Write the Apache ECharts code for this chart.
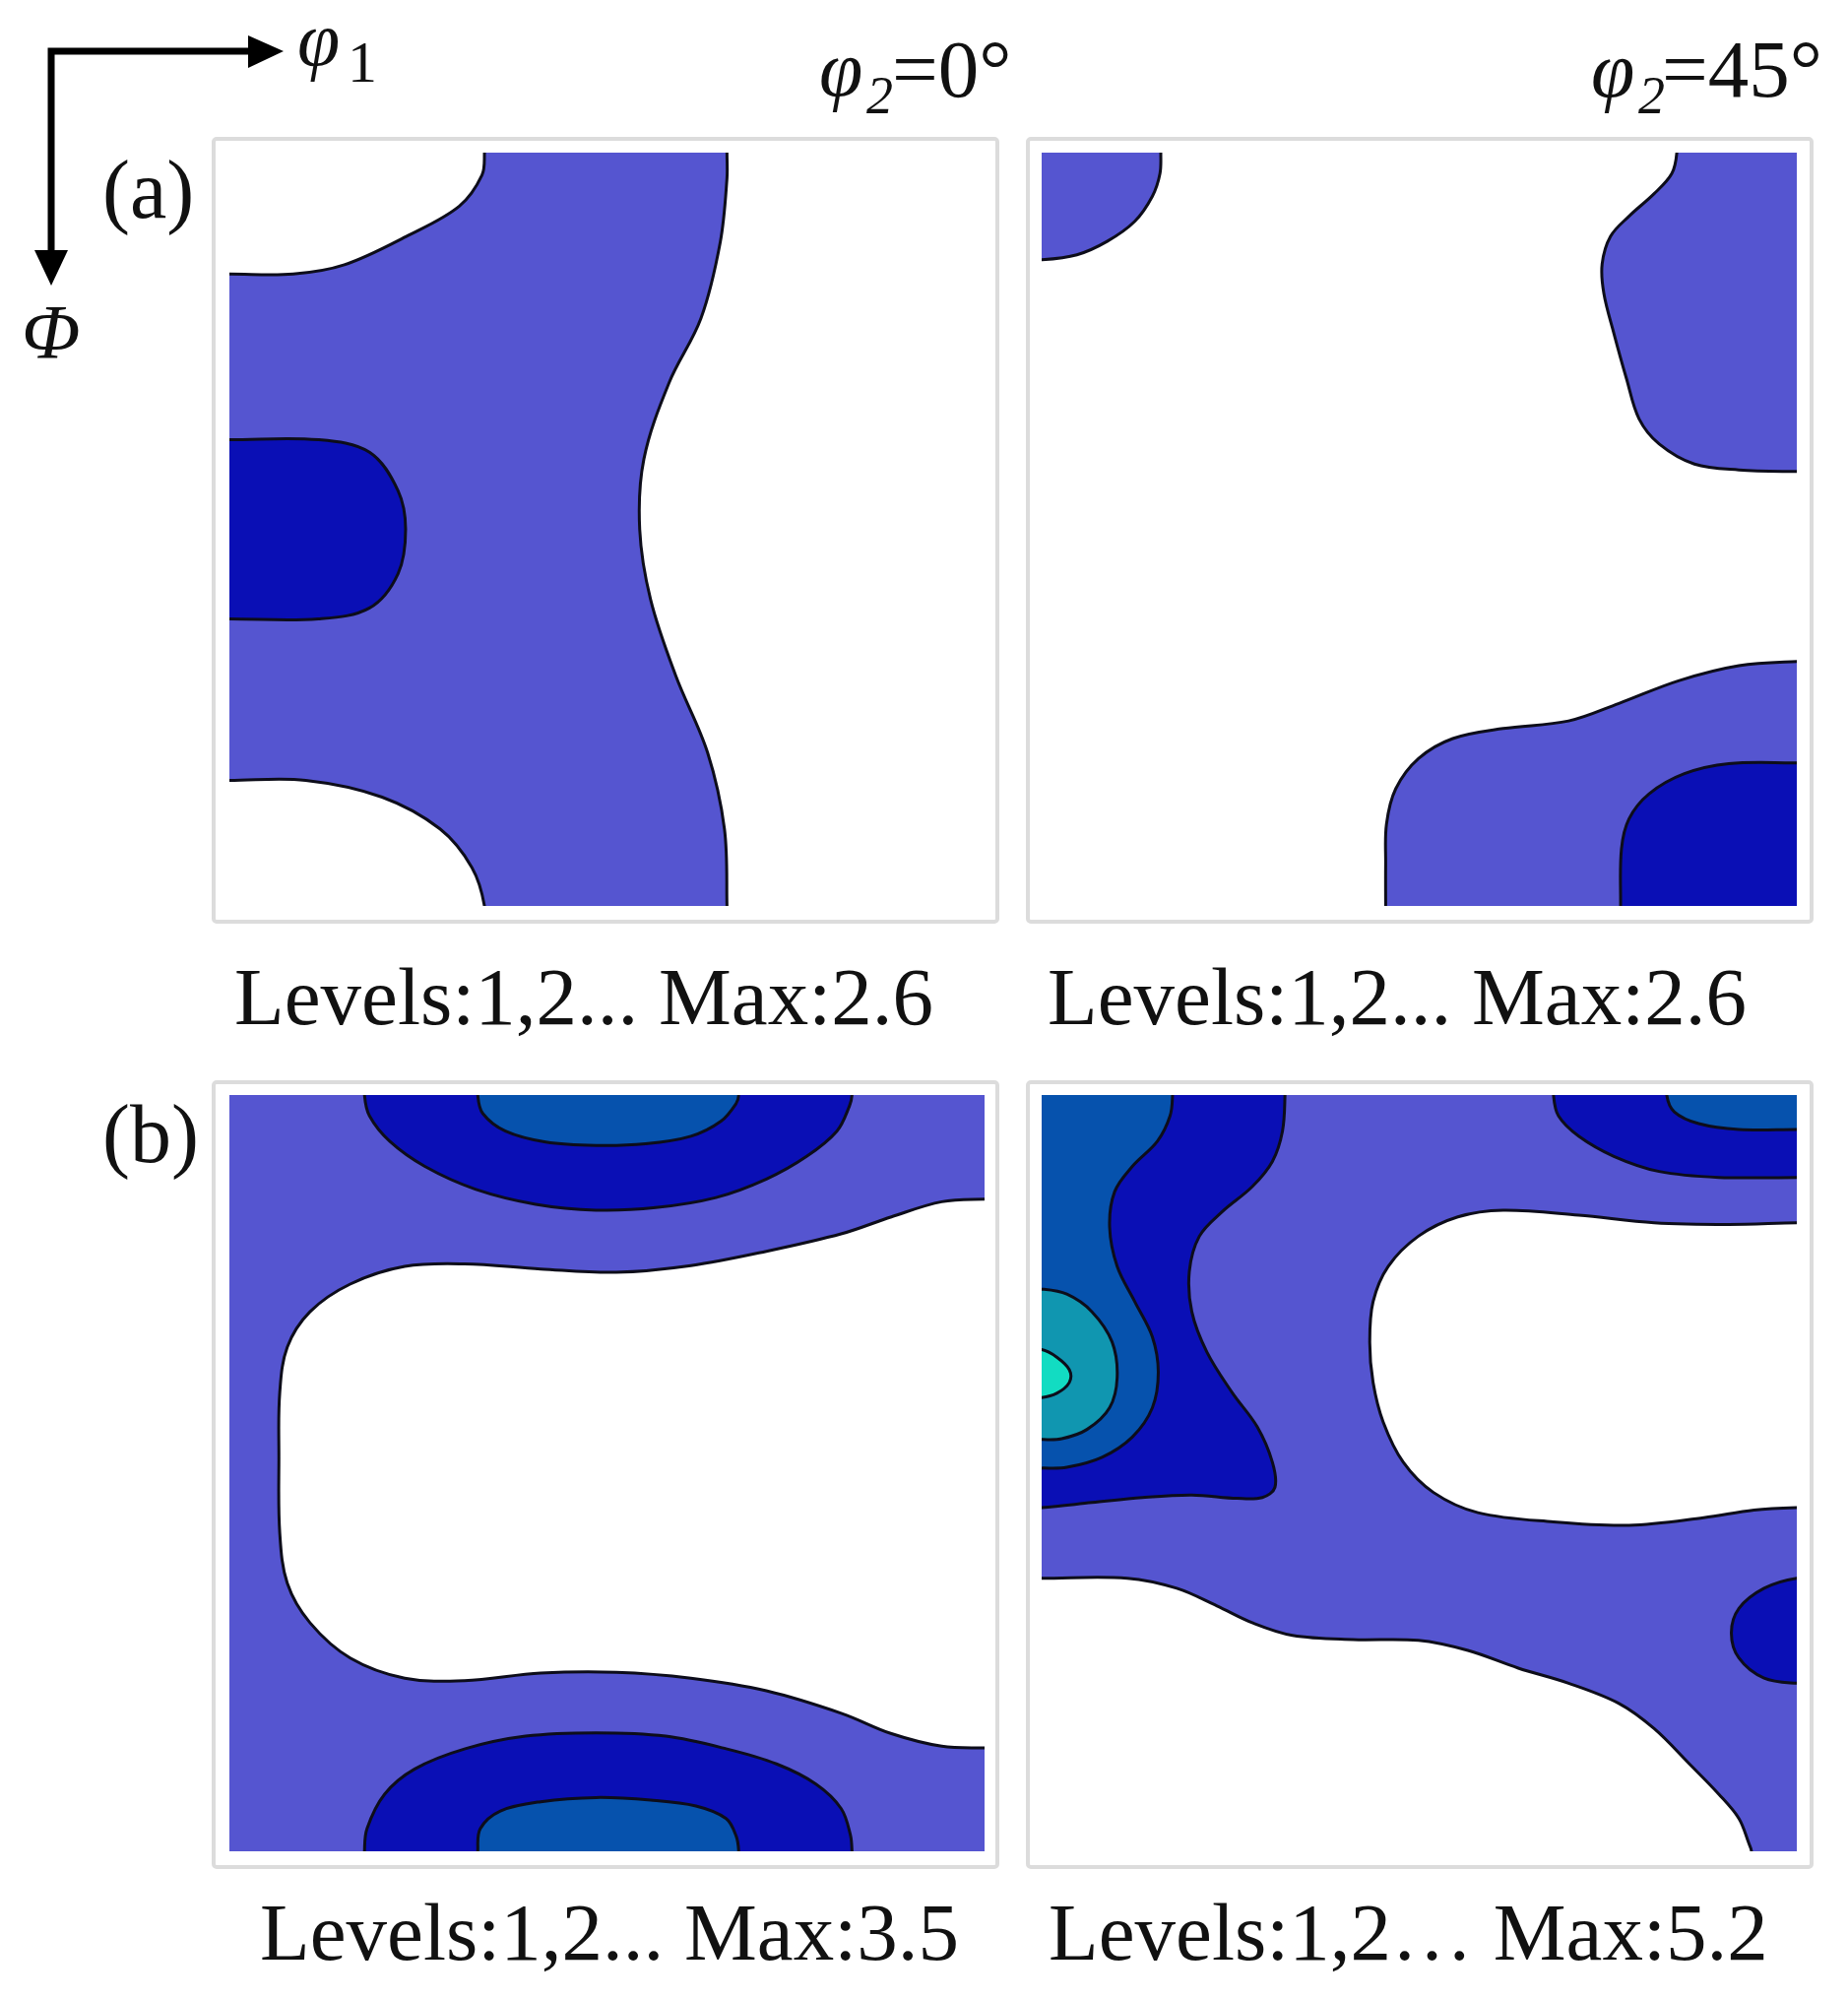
<!DOCTYPE html>
<html>
<head>
<meta charset="utf-8">
<title>ODF sections</title>
<script src="https://cdn.jsdelivr.net/npm/echarts@6/dist/echarts.min.js"></script>
<style>
html, body { margin: 0; padding: 0; background: #fff; }
#chart { width: 1877px; height: 2030px; }
</style>
</head>
<body>
<div id="chart"></div>
<script>
// contour fill colours, level 0 (below 1) up to level 5
const levelColors = ['#ffffff', '#5555d0', '#0a0fb5', '#0652ad', '#1096b0', '#12dcc2']

// axes: phi1 0..90 to the right, Phi 0..90 downwards
const axisMin = 0
const axisMax = 90

const captions = ['Levels:1,2... Max:2.6', 'Levels:1,2... Max:2.6', 'Levels:1,2... Max:3.5', 'Levels:1,2… Max:5.2']
const sectionTitles = ['0°', '45°']

// ---- (a) phi2 = 0 ----
const aLeftTopNotch = [[30.4, -4], [30.4, 0], [30.1, 2.7], [27.4, 6.4], [21.3, 9.9], [13.7, 13.4], [7.6, 14.5], [0, 14.5], [-4, 14.5]]
const aLeftBottomNotch = [[-4, 75], [0, 75], [9.1, 75], [18.2, 77], [25.1, 80.8], [28.9, 85.4], [30.4, 90], [30.4, 94]]
const aLeftRightWhite = [[59.3, -4], [59.3, 0], [59.3, 3.1], [58.5, 10.7], [56.2, 19.8], [52.4, 27.5], [49.4, 36.6], [48.9, 45], [50.2, 53.4], [53.2, 62.5], [57, 71.7], [59, 80.8], [59.3, 90], [59.3, 94]]
const aLeftLevel2 = [[-4, 34.3], [0, 34.3], [10.6, 34.3], [16.7, 35.8], [20.1, 40.4], [21, 45], [20.1, 50.3], [16.7, 54.4], [10.6, 55.7], [0, 55.7], [-4, 55.7]]

// ---- (a) phi2 = 45 ----
const aRightTopLeft = [[-4, 12.8], [0, 12.8], [4.2, 12.2], [7.8, 10.6], [11.1, 8.2], [13.2, 5.2], [14.1, 2.5], [14.2, 0], [14.2, -4]]
const aRightTopRight = [[75.7, -4], [75.7, 0], [75.1, 2.5], [73, 4.9], [70, 7.6], [67.8, 10], [66.8, 13.3], [67, 16.8], [68.2, 21.6], [69.7, 27], [71.2, 31.8], [73.6, 34.8], [77.8, 37.2], [83.1, 37.9], [90, 38.1], [94, 38.1]]
const aRightBottomL1 = [[94, 60.8], [90, 60.8], [83.1, 61.3], [75.9, 63.1], [68.8, 65.8], [62.8, 67.9], [55, 68.8], [49, 70], [44.9, 72.4], [42.2, 76], [41.1, 80.2], [41, 85], [41, 90], [41, 94]]
const aRightBottomL2 = [[94, 72.9], [90, 72.9], [81.9, 73], [76.6, 74.2], [72.4, 76.6], [70, 79.6], [69.1, 83.2], [69, 90], [69, 94]]

// ---- (b) phi2 = 0 ----
const bLeftHole = [[94, 12.4], [90, 12.4], [84.9, 12.7], [78.9, 14.5], [73, 16.5], [64, 18.6], [55, 20.3], [46.1, 21.1], [37.1, 20.7], [28, 20.1], [20.9, 20.4], [14.4, 22.5], [9.6, 25.8], [6.9, 30], [6, 35.4], [5.9, 43.1], [6, 52.1], [6.9, 58.1], [9.6, 62.8], [14.4, 67], [20.9, 69.4], [28, 69.7], [37.1, 68.8], [46.1, 68.7], [55, 69.4], [64, 70.9], [73, 73.6], [78.9, 76], [84.9, 77.5], [90, 77.7], [94, 77.7]]
const bLeftTopL2 = [[16.1, -4], [16.1, 0], [16.7, 2.5], [19.1, 5.5], [23.3, 8.5], [29.3, 11.2], [36.5, 13], [43.7, 13.7], [50.8, 13.4], [58, 12.2], [64, 10], [68.8, 7.3], [72.4, 4.3], [73.9, 1.3], [74.2, 0], [74.2, -4]]
const bLeftTopL3 = [[29.6, -4], [29.6, 0], [30.2, 2.2], [32.9, 4.3], [37.7, 5.6], [43.7, 6], [49.6, 5.8], [55, 4.9], [58.6, 3.1], [60.4, 1], [60.7, 0], [60.7, -4]]
const bLeftBottomL2 = [[16.1, 94], [16.1, 90], [16.4, 87.3], [18.5, 83.2], [22.1, 80.2], [28.1, 77.8], [35.3, 76.3], [43.7, 75.9], [52, 76.3], [59.2, 77.8], [65.2, 79.6], [69.9, 82], [72.9, 84.9], [74, 88], [74.2, 90], [74.2, 94]]
const bLeftBottomL3 = [[29.6, 94], [29.6, 90], [29.9, 87.3], [32.3, 85.2], [37.1, 84.1], [43.7, 83.6], [50.2, 83.9], [55.6, 84.6], [59.2, 86.1], [60.4, 88.2], [60.7, 90], [60.7, 94]]

// ---- (b) phi2 = 45 ----
const bRightHole = [[94, 15.2], [90, 15.2], [81.9, 15.4], [73, 15.2], [64, 14.3], [55, 13.7], [49.6, 14.5], [44.9, 16.8], [41.3, 20.4], [39.5, 24.6], [39.1, 29.4], [39.5, 34.2], [40.7, 38.9], [43.1, 43.7], [46.7, 47.3], [52, 49.7], [61, 50.8], [70, 51.2], [78.9, 50.3], [84.9, 49.4], [90, 49.1], [94, 49.1]]
const bRightBottomWhite = [[-4, 57.5], [0, 57.5], [10.2, 57.5], [16.1, 58.7], [20.9, 60.8], [25.1, 62.8], [29.9, 64.3], [37.1, 64.8], [44.9, 64.9], [50.8, 66.1], [56.8, 68.2], [62.8, 70], [68.8, 72.4], [73, 75.4], [77.2, 79.6], [80.7, 83.2], [83.1, 86.1], [84.3, 89.1], [84.6, 90], [84.7, 94]]
const bRightLeftL2 = [[29, -4], [29, 0], [28.7, 4.3], [27.5, 7.9], [25.1, 10.9], [21.5, 13.9], [18.8, 16.8], [17.6, 21], [17.9, 25.8], [19.7, 30.6], [22.7, 35.4], [25.7, 39.5], [27.5, 43.7], [27.8, 46.7], [26.3, 47.9], [23.3, 48], [17.9, 47.6], [12, 47.9], [6, 48.5], [0, 49.1], [-4, 49.2]]
const bRightLeftL3 = [[15.6, -4], [15.6, 0], [15.3, 2.5], [13.8, 5.5], [10.8, 8.5], [8.7, 11.5], [8.1, 15.7], [9, 20.4], [11.1, 24.6], [13.2, 28.8], [13.9, 33], [13.2, 37.2], [10.8, 40.7], [7.2, 43.1], [3, 44.3], [0, 44.4], [-4, 44.4]]
const bRightLeftL4 = [[-4, 23], [0, 23.1], [3, 23.7], [6, 25.8], [8.4, 29.4], [9, 33.6], [8.1, 37.2], [5.4, 39.8], [2.4, 40.9], [0, 41], [-4, 41]]
const bRightLeftL5 = [[-4, 30.2], [0, 30.3], [1.8, 31.2], [3.3, 32.7], [3.3, 34.2], [1.8, 35.5], [0, 36], [-4, 36.1]]
const bRightTopL2 = [[61, -4], [61, 0], [61.6, 2.5], [64, 4.9], [68.2, 7.3], [73.6, 9.1], [80.7, 9.8], [90, 9.8], [94, 9.8]]
const bRightTopL3 = [[74.5, -4], [74.5, 0], [75.4, 2], [78.3, 3.4], [83.1, 4.1], [90, 4.1], [94, 4.1]]
const bRightBlobL2 = [[94, 57.5], [90, 57.5], [86.1, 58.7], [83.1, 61.1], [82.2, 64], [83.1, 67], [86.1, 69.4], [90, 70], [94, 70]]

// corners well outside the plot, used to close regions touching an edge
const corners = { TL: [-12, -12], TR: [102, -12], BR: [102, 102], BL: [-12, 102] }
const fullPlot = { level: 1, line: [], close: ['TL', 'TR', 'BR', 'BL'] }

// drawing order = painter order
const panels = [
  [fullPlot,
    { level: 0, line: aLeftTopNotch, close: ['TL'] },
    { level: 0, line: aLeftBottomNotch, close: ['BL'] },
    { level: 0, line: aLeftRightWhite, close: ['BR', 'TR'] },
    { level: 2, line: aLeftLevel2, close: [] }],
  [{ level: 1, line: aRightTopLeft, close: ['TL'] },
    { level: 1, line: aRightTopRight, close: ['TR'] },
    { level: 1, line: aRightBottomL1, close: ['BR'] },
    { level: 2, line: aRightBottomL2, close: ['BR'] }],
  [fullPlot,
    { level: 0, line: bLeftHole, close: [] },
    { level: 2, line: bLeftTopL2, close: [] },
    { level: 3, line: bLeftTopL3, close: [] },
    { level: 2, line: bLeftBottomL2, close: [] },
    { level: 3, line: bLeftBottomL3, close: [] }],
  [fullPlot,
    { level: 0, line: bRightHole, close: [] },
    { level: 0, line: bRightBottomWhite, close: ['BL'] },
    { level: 2, line: bRightLeftL2, close: ['TL'] },
    { level: 3, line: bRightLeftL3, close: ['TL'] },
    { level: 4, line: bRightLeftL4, close: [] },
    { level: 5, line: bRightLeftL5, close: [] },
    { level: 2, line: bRightTopL2, close: ['TR'] },
    { level: 3, line: bRightTopL3, close: ['TR'] },
    { level: 2, line: bRightBlobL2, close: [] }]
]

// plot boxes (inner) and frames
const gridBoxes = [
  { left: 233, top: 155, width: 767, height: 765 },
  { left: 1058, top: 155, width: 767, height: 765 },
  { left: 233, top: 1112, width: 767, height: 768 },
  { left: 1058, top: 1112, width: 767, height: 768 }
]
const frames = [
  { x: 217, y: 141, width: 796, height: 795 },
  { x: 1044, y: 141, width: 796, height: 795 },
  { x: 217, y: 1099, width: 796, height: 797 },
  { x: 1044, y: 1099, width: 796, height: 797 }
]

const serif = 'Liberation Serif'

// text placed by its alphabetic baseline
const text = (str, x, base, size, extra) => ({
  type: 'text',
  x: x,
  y: base - size * 0.3,
  style: Object.assign({
    text: str,
    fontFamily: serif,
    fontSize: size,
    fill: '#111',
    align: 'left',
    verticalAlign: 'middle'
  }, extra || {})
})

const contourSeries = (idx) => ({
  type: 'custom',
  xAxisIndex: idx,
  yAxisIndex: idx,
  clip: true,
  silent: true,
  animation: false,
  data: panels[idx].map((r, i) => [i]),
  renderItem: (params, api) => {
    const r = panels[idx][params.dataIndex]
    const pts = r.line.concat(r.close.map(c => corners[c])).map(p => api.coord(p))
    const isBg = r.line.length === 0
    return {
      type: 'polygon',
      shape: { points: pts, smooth: isBg ? 0 : 0.35 },
      style: {
        fill: levelColors[r.level],
        stroke: isBg ? null : '#0d0d1a',
        lineWidth: 3
      }
    }
  }
})

const chart = echarts.init(document.getElementById('chart'))

const graphics = []
frames.forEach(f => {
  graphics.push({
    type: 'rect',
    shape: { x: f.x, y: f.y, width: f.width, height: f.height, r: 3 },
    style: { fill: null, stroke: '#dcdcdc', lineWidth: 4 },
    z: -1
  })
})
// axis arrows
graphics.push({
  type: 'polyline',
  shape: { points: [[258, 52], [52, 52], [52, 260]] },
  style: { stroke: '#000', lineWidth: 7, fill: null, lineJoin: 'miter' }
})
graphics.push({ type: 'polygon', shape: { points: [[252, 36], [288, 52], [252, 69]] }, style: { fill: '#000' } })
graphics.push({ type: 'polygon', shape: { points: [[35, 254], [52, 290], [69, 254]] }, style: { fill: '#000' } })
graphics.push(text('φ', 302, 69, 78, { fontStyle: 'italic' }))
graphics.push(text('1', 353, 85, 60))
graphics.push(text('Φ', 22, 366, 78, { fontStyle: 'italic' }))
graphics.push(text('(a)', 104, 224, 84))
graphics.push(text('(b)', 104, 1183, 84))
// section titles
graphics.push(text('φ', 832, 100, 80, { fontStyle: 'italic' }))
graphics.push(text('2', 880, 117, 54, { fontStyle: 'italic' }))
graphics.push(text('=' + sectionTitles[0], 906, 101, 83))
graphics.push(text('φ', 1616, 101, 80, { fontStyle: 'italic' }))
graphics.push(text('2', 1664, 117, 54, { fontStyle: 'italic' }))
graphics.push(text('=' + sectionTitles[1], 1688, 101, 83))
// captions
graphics.push(text(captions[0], 238, 1043, 83))
graphics.push(text(captions[1], 1064, 1043, 83))
graphics.push(text(captions[2], 264, 1993, 83))
graphics.push(text(captions[3], 1065, 1993, 83))

chart.setOption({
  backgroundColor: '#fff',
  animation: false,
  grid: gridBoxes.map(g => Object.assign({ containLabel: false, show: false }, g)),
  xAxis: gridBoxes.map((g, i) => ({ type: 'value', gridIndex: i, min: axisMin, max: axisMax, show: false })),
  yAxis: gridBoxes.map((g, i) => ({ type: 'value', gridIndex: i, min: axisMin, max: axisMax, inverse: true, show: false })),
  series: panels.map((p, i) => contourSeries(i)),
  graphic: graphics
})
</script>
</body>
</html>
